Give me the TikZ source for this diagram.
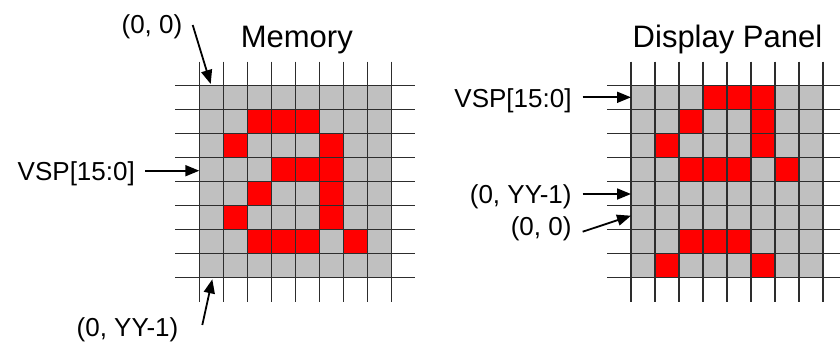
\documentclass[tikz,border=0pt]{standalone}
\usepackage{fontspec}
\setmainfont{Liberation Sans}
\usetikzlibrary{arrows.meta}
\definecolor{cellgray}{RGB}{192,192,192}
\definecolor{cellred}{RGB}{255,0,0}
\definecolor{linegray}{RGB}{45,45,45}
\begin{document}
\begin{tikzpicture}[x=1pt,y=-1pt,
  gridline/.style={draw=linegray,line width=1.4pt},
  ptr/.style={-{Triangle[length=14pt,width=11pt]},line width=1.8pt},
  lbl/.style={font=\fontsize{26}{30}\selectfont,inner sep=0pt},
  ttl/.style={font=\fontsize{31}{36}\selectfont,inner sep=0pt}]
\useasboundingbox (0,0) rectangle (840,349);

% Memory grid
\begin{scope}[shift={(199.3,85.5)}]
  \fill[cellgray] (0,0) rectangle (192,192);
  \foreach \c/\r in {2/1,3/1,4/1,1/2,5/2,3/3,4/3,5/3,2/4,5/4,1/5,5/5,2/6,3/6,4/6,6/6}
    \fill[cellred] (\c*24,\r*24) rectangle ++(24,24);
  \foreach \k in {0,...,8} {
    \draw[gridline] (-24,\k*24) -- (216,\k*24);
    \draw[gridline] (\k*24,-24) -- (\k*24,216);
  }
\end{scope}

% Display panel grid
\begin{scope}[shift={(631,85.5)}]
  \fill[cellgray] (0,0) rectangle (192,192);
  \foreach \c/\r in {3/0,4/0,5/0,2/1,5/1,1/2,5/2,2/3,3/3,4/3,6/3,2/6,3/6,4/6,1/7,5/7}
    \fill[cellred] (\c*24,\r*24) rectangle ++(24,24);
  \foreach \k in {0,...,8} {
    \draw[gridline] (-24,\k*24) -- (216,\k*24);
    \draw[gridline] (\k*24,-24) -- (\k*24,216);
  }
\end{scope}

% Titles
\node[ttl,anchor=base] (tmem) at (296.8,47) {Memory};
\node[ttl,anchor=base] (tdisp) at (727.5,47) {Display Panel};

% Left labels
\node[lbl,anchor=base east] (l00) at (182.5,33) {(0, 0)};
\node[lbl,anchor=base east] (lvsp) at (135,180) {VSP[15:0]};
\node[lbl,anchor=base east] (lyy) at (178.5,336) {(0, YY-1)};
\coordinate (l00s) at (192.7,25);
\coordinate (l00e) at (210.7,84);
\coordinate (lvsps) at (145,170.7);
\coordinate (lvspe) at (199.3,170.7);
\coordinate (lyys) at (202.3,325);
\coordinate (lyye) at (212.3,279.3);
\draw[ptr] (l00s) -- (l00e);
\draw[ptr] (lvsps) -- (lvspe);
\draw[ptr] (lyys) -- (lyye);

% Right labels
\node[lbl,anchor=base east] (rvsp) at (571.7,107.3) {VSP[15:0]};
\node[lbl,anchor=base east] (ryy) at (571.7,203.3) {(0, YY-1)};
\node[lbl,anchor=base east] (r00) at (571.7,235) {(0, 0)};
\coordinate (rvsps) at (582.7,97.3);
\coordinate (rvspe) at (631,97.3);
\coordinate (ryys) at (582.7,194);
\coordinate (ryye) at (631,194);
\coordinate (r00s) at (582.7,231.7);
\coordinate (r00e) at (631,215.7);
\draw[ptr] (rvsps) -- (rvspe);
\draw[ptr] (ryys) -- (ryye);
\draw[ptr] (r00s) -- (r00e);
\end{tikzpicture}
\end{document}
